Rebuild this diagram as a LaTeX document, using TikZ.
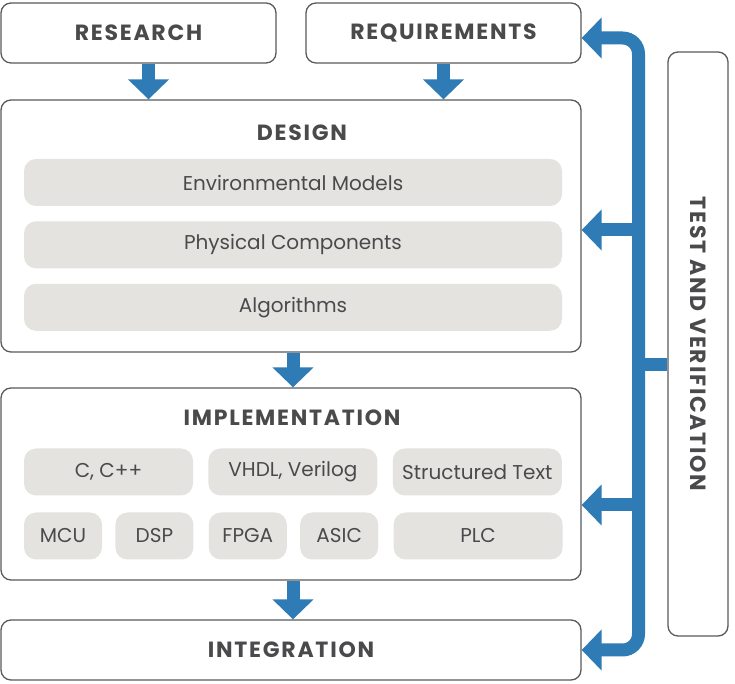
\documentclass[tikz,border=0pt]{standalone}
\usepackage{fontspec}
\setmainfont{Poppins}
\newfontfamily\headfont[LetterSpace=8]{Poppins}
\usepackage{xcolor}
\usepackage{tikz}
\usetikzlibrary{arrows.meta,positioning}
\definecolor{devblue}{HTML}{2E7BB6}
\definecolor{devtext}{HTML}{4A4A4C}
\definecolor{devline}{HTML}{5A5A5C}
\definecolor{devchipfill}{HTML}{E4E3DF}

\begin{document}
\begin{tikzpicture}[
x=1pt, y=1pt,
devbox/.style={draw=devline, line width=1.3pt, rounded corners=10pt, fill=white,
text=devtext, inner sep=0pt},
devhead/.style={font={\headfont\bfseries\fontsize{22}{26}\selectfont}, text=devtext},
devchip/.style={fill=devchipfill, rounded corners=12pt, minimum height=47pt,
inner sep=0pt, text=devtext, font={\fontsize{20}{24}\selectfont}},
devarrow/.style={draw=devblue, line width=13pt, -{Triangle[width=40pt, length=20pt]}},
devbus/.style={draw=devblue, line width=13pt, rounded corners=16pt}
]
\path[fill=white, use as bounding box] (0,0) rectangle (735,684);

\node[devbox, devhead, minimum width=275pt, minimum height=60pt] (research) at (138.5,651) {RESEARCH};
\node[devbox, devhead, minimum width=275pt, minimum height=60pt] (req) at (443.5,651) {REQUIREMENTS};

\node[devbox, minimum width=580pt, minimum height=252pt] (design) at (291,458) {};
\node[devhead] (designtitle) at (302,551) {DESIGN};
\node[devchip, minimum width=538pt] (envmodels) at (293,501.5) {Environmental Models};
\node[devchip, minimum width=538pt, below=15pt of envmodels] (physcomp) {Physical Components};
\node[devchip, minimum width=538pt, below=15pt of physcomp] (algos) {Algorithms};

\node[devbox, minimum width=580pt, minimum height=192pt] (impl) at (291,200) {};
\node[devhead] (impltitle) at (292,266) {IMPLEMENTATION};
\node[devchip, minimum width=169pt] (ccpp) at (108.5,212) {C, C++};
\node[devchip, minimum width=169pt, right=15pt of ccpp] (hdl) {VHDL, Verilog};
\node[devchip, minimum width=169pt, right=15pt of hdl] (sttext) {Structured Text};
\node[devchip, minimum width=78pt] (mcu) at (63,148) {MCU};
\node[devchip, minimum width=78pt, right=13pt of mcu] (dsp) {DSP};
\node[devchip, minimum width=78pt, right=15pt of dsp] (fpga) {FPGA};
\node[devchip, minimum width=78pt, right=13pt of fpga] (asic) {ASIC};
\node[devchip, minimum width=169pt, right=15pt of asic] (plc) {PLC};

\node[devbox, devhead, minimum width=580pt, minimum height=60pt] (integ) at (291,34) {INTEGRATION};

\node[devbox, minimum width=60pt, minimum height=584pt] (test) at (698,340) {};
\node[devhead, rotate=-90] (testlabel) at (test.center) {TEST AND VERIFICATION};

% flow down the stages
\draw[devarrow] ([xshift=10pt]research.south) -- ([xshift=10pt]research.south |- design.north);
\draw[devarrow] (req.south) -- (req.south |- design.north);
\draw[devarrow] ([xshift=2pt]design.south) -- ([xshift=2pt]design.south |- impl.north);
\draw[devarrow] ([xshift=2pt]impl.south) -- ([xshift=2pt]impl.south |- integ.north);

% test and verification feedback
\coordinate (busx) at (638.5,0);
\coordinate (stub) at (test.west |- 0,319);
\draw[devbus, {Triangle[width=40pt, length=20pt]}-{Triangle[width=40pt, length=20pt]}]
  ([yshift=-5pt]req.east) -| (busx |- integ.east) -- (integ.east);
\draw[devarrow] (busx |- 0,454) -- (design.east |- 0,454);
\draw[devarrow] (busx |- 0,179) -- (impl.east |- 0,179);
\draw[devbus] (busx |- stub) -- (stub);
\end{tikzpicture}
\end{document}
